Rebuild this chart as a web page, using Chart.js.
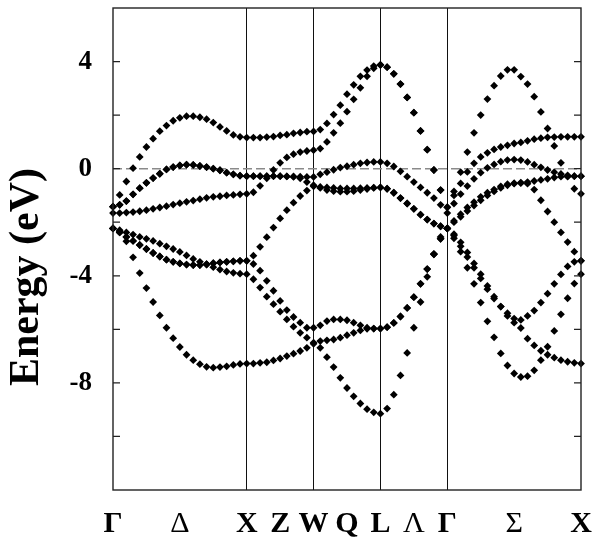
<!DOCTYPE html>
<html>
<head>
<meta charset="utf-8">
<script src="https://cdn.jsdelivr.net/npm/chart.js@4.4.0/dist/chart.umd.min.js"></script>
<style>
  html, body { margin: 0; padding: 0; background: #fff; }
  #wrap { width: 599px; height: 542px; }
</style>
</head>
<body>
<div id="wrap"><canvas id="bandas" width="599" height="542"></canvas></div>
<script>
// Puntos de alta simetria sobre el camino k (indice del punto k y etiqueta)
var simEtiquetas = ['Γ', 'Δ', 'X', 'Z', 'W', 'Q', 'L', 'Λ', 'Γ', 'Σ', 'X'];
var simIndices = [0, 10, 20, 25, 30, 35, 40, 45, 50, 60, 70];
// Etiquetas de direccion (letra fina) y lineas verticales en X, W, L, Γ
var simFinas = ['Δ', 'Λ', 'Σ'];
var simLineas = [20, 30, 40, 50];

// Marcas del eje de energia (eV)
var energiaTicks = [4, 0, -4, -8];
var nivelFermi = 0;

// Bandas (eV), 71 puntos k: Γ-X (0-20), X-W-L (20-40), L-Γ (40-50), Γ-X (50-70)
var banda1 = [-1.42, -0.98, -0.48, 0.02, 0.44, 0.81, 1.12, 1.40, 1.61, 1.79, 1.90, 1.96, 1.96, 1.92, 1.85, 1.72, 1.56, 1.41, 1.26, 1.19, 1.16,
  1.16, 1.16, 1.18, 1.20, 1.24, 1.27, 1.32, 1.35, 1.38, 1.39, 1.46, 1.69, 2.02, 2.37, 2.78, 3.13, 3.45, 3.68, 3.83, 3.88,
  3.79, 3.54, 3.16, 2.66, 2.09, 1.41, 0.71, -0.05, -0.80, -1.44,
  -0.85, -0.13, 0.62, 1.34, 2.00, 2.60, 3.10, 3.46, 3.69, 3.69, 3.44, 3.16, 2.69, 2.12, 1.50, 0.85, 0.22, -0.30, -0.75, -0.94];
var banda2 = [-1.66, -1.66, -1.64, -1.62, -1.59, -1.55, -1.50, -1.45, -1.40, -1.34, -1.29, -1.24, -1.19, -1.14, -1.09, -1.05, -1.03, -1.00, -0.98, -0.96, -0.94,
  -0.88, -0.64, -0.36, -0.05, 0.22, 0.42, 0.54, 0.62, 0.66, 0.69, 0.75, 1.00, 1.34, 1.70, 2.13, 2.59, 3.02, 3.45, 3.75, 3.87,
  3.79, 3.54, 3.16, 2.66, 2.09, 1.41, 0.71, -0.05, -0.80, -1.44,
  -1.00, -0.55, -0.12, 0.20, 0.44, 0.59, 0.72, 0.81, 0.87, 0.94, 0.98, 1.04, 1.10, 1.14, 1.17, 1.18, 1.19, 1.19, 1.19, 1.19];
var banda3 = [-1.42, -1.35, -1.21, -0.96, -0.73, -0.53, -0.35, -0.19, -0.03, 0.06, 0.12, 0.15, 0.14, 0.10, 0.06, 0.00, -0.06, -0.15, -0.21, -0.26, -0.28,
  -0.28, -0.28, -0.28, -0.28, -0.28, -0.29, -0.29, -0.30, -0.31, -0.31, -0.21, -0.13, -0.04, 0.04, 0.09, 0.15, 0.20, 0.23, 0.25, 0.25,
  0.20, 0.08, -0.10, -0.30, -0.50, -0.70, -0.90, -1.10, -1.35, -1.66,
  -1.30, -0.95, -0.65, -0.38, -0.15, 0.03, 0.16, 0.26, 0.32, 0.34, 0.32, 0.25, 0.15, 0.05, -0.05, -0.13, -0.20, -0.25, -0.28, -0.28];
var banda4 = [-1.42, -1.35, -1.21, -0.96, -0.73, -0.53, -0.35, -0.19, -0.03, 0.06, 0.12, 0.15, 0.14, 0.10, 0.06, 0.00, -0.06, -0.15, -0.21, -0.26, -0.28,
  -0.28, -0.28, -0.28, -0.28, -0.28, -0.29, -0.31, -0.36, -0.50, -0.62, -0.72, -0.80, -0.84, -0.86, -0.86, -0.84, -0.80, -0.76, -0.72, -0.70,
  -0.75, -0.90, -1.10, -1.30, -1.50, -1.72, -1.90, -2.05, -2.15, -2.23,
  -1.95, -1.70, -1.45, -1.25, -1.05, -0.90, -0.78, -0.66, -0.58, -0.54, -0.52, -0.50, -0.46, -0.42, -0.38, -0.33, -0.30, -0.28, -0.28, -0.28];
var banda5 = [-2.23, -2.38, -2.55, -2.70, -2.85, -3.00, -3.15, -3.28, -3.40, -3.48, -3.54, -3.58, -3.60, -3.60, -3.57, -3.53, -3.50, -3.48, -3.46, -3.44, -3.44,
  -3.25, -2.92, -2.56, -2.20, -1.86, -1.55, -1.27, -1.02, -0.82, -0.66, -0.68, -0.70, -0.72, -0.74, -0.74, -0.74, -0.73, -0.72, -0.71, -0.70,
  -0.75, -0.90, -1.10, -1.30, -1.50, -1.72, -1.90, -2.05, -2.15, -2.23,
  -2.00, -1.80, -1.58, -1.38, -1.18, -1.00, -0.85, -0.72, -0.62, -0.56, -0.54, -0.56, -0.78, -1.18, -1.60, -2.00, -2.38, -2.74, -3.10, -3.44];
var banda6 = [-2.23, -2.38, -2.55, -2.70, -2.85, -3.00, -3.15, -3.28, -3.40, -3.48, -3.54, -3.58, -3.60, -3.60, -3.57, -3.53, -3.50, -3.48, -3.46, -3.44, -3.44,
  -3.56, -3.81, -4.19, -4.56, -4.94, -5.28, -5.54, -5.75, -5.94, -5.94, -5.85, -5.69, -5.63, -5.63, -5.66, -5.75, -5.85, -5.94, -5.97, -5.97,
  -5.92, -5.76, -5.52, -5.20, -4.80, -4.30, -3.75, -3.20, -2.62, -2.23,
  -2.50, -2.90, -3.30, -3.70, -4.10, -4.50, -4.85, -5.15, -5.40, -5.60, -5.65, -5.50, -5.30, -5.00, -4.67, -4.30, -3.95, -3.65, -3.48, -3.44];
var banda7 = [-2.23, -2.30, -2.38, -2.46, -2.55, -2.62, -2.70, -2.80, -2.90, -3.00, -3.11, -3.24, -3.37, -3.48, -3.58, -3.68, -3.77, -3.84, -3.89, -3.92, -3.94,
  -4.13, -4.44, -4.78, -5.06, -5.34, -5.63, -5.90, -6.13, -6.31, -6.50, -6.69, -7.04, -7.41, -7.81, -8.19, -8.50, -8.77, -8.98, -9.10, -9.15,
  -8.96, -8.44, -7.72, -6.88, -5.94, -4.98, -4.04, -3.18, -2.55, -2.23,
  -2.60, -3.10, -3.70, -4.30, -5.00, -5.70, -6.30, -6.90, -7.35, -7.65, -7.78, -7.75, -7.53, -7.15, -6.65, -6.06, -5.44, -4.84, -4.29, -3.94];
var banda8 = [-2.23, -2.35, -2.71, -3.31, -3.90, -4.46, -4.98, -5.48, -5.94, -6.33, -6.66, -6.95, -7.15, -7.30, -7.40, -7.43, -7.41, -7.38, -7.33, -7.29, -7.28,
  -7.28, -7.25, -7.23, -7.16, -7.09, -7.00, -6.91, -6.81, -6.69, -6.54, -6.44, -6.41, -6.38, -6.31, -6.22, -6.13, -6.04, -5.98, -5.97, -5.97,
  -5.92, -5.76, -5.52, -5.20, -4.80, -4.30, -3.75, -3.20, -2.62, -2.23,
  -2.45, -2.75, -3.13, -3.54, -3.94, -4.38, -4.78, -5.15, -5.50, -5.75, -5.95, -6.35, -6.60, -6.80, -6.95, -7.06, -7.15, -7.21, -7.25, -7.28];

var bandas = [banda1, banda2, banda3, banda4, banda5, banda6, banda7, banda8];

// Etiquetas del eje k: vacias salvo en los puntos de simetria
var kEtiquetas = banda1.map(function() { return ''; });
simIndices.forEach(function(idx, n) { kEtiquetas[idx] = simEtiquetas[n]; });

var fuente = '"Liberation Serif", "Times New Roman", serif';

// Marco, marcas interiores del eje y, linea de Fermi y titulo del eje
var marcoPlugin = {
  id: 'marco',
  beforeDatasetsDraw: function(chart) {
    var ctx = chart.ctx, a = chart.chartArea, y = chart.scales.y.getPixelForValue(nivelFermi);
    ctx.save();
    ctx.strokeStyle = '#8a8a8a';
    ctx.lineWidth = 1.5;
    ctx.setLineDash([9, 4]);
    ctx.beginPath();
    ctx.moveTo(a.left, y);
    ctx.lineTo(a.right, y);
    ctx.stroke();
    ctx.restore();
  },
  afterDraw: function(chart) {
    var ctx = chart.ctx, a = chart.chartArea, ys = chart.scales.y;
    ctx.save();
    ctx.strokeStyle = '#222';
    ctx.lineWidth = 1.4;
    ctx.strokeRect(a.left, a.top, a.right - a.left, a.bottom - a.top);
    ctx.lineWidth = 1.2;
    ys.ticks.forEach(function(t) {
      if (t.value <= ys.min || t.value >= ys.max) return;
      var py = ys.getPixelForValue(t.value);
      ctx.beginPath();
      ctx.moveTo(a.left, py); ctx.lineTo(a.left + 7, py);
      ctx.moveTo(a.right, py); ctx.lineTo(a.right - 7, py);
      ctx.stroke();
    });
    // Titulo del eje y
    ctx.translate(27, 277);
    ctx.rotate(-Math.PI / 2);
    ctx.fillStyle = '#000';
    ctx.font = 'bold 42px ' + fuente;
    ctx.textAlign = 'center';
    ctx.textBaseline = 'middle';
    ctx.fillText('Energy (eV)', 0, 0);
    ctx.restore();
  }
};

new Chart(document.getElementById('bandas'), {
  type: 'line',
  data: {
    labels: kEtiquetas,
    datasets: bandas.map(function(b, i) {
      return {
        label: 'banda ' + (i + 1),
        data: b,
        showLine: false,
        pointStyle: 'rectRot',
        pointRadius: 3.9,
        pointBorderWidth: 0,
        pointBackgroundColor: '#000',
        borderColor: '#000',
        clip: false
      };
    })
  },
  options: {
    responsive: false,
    animation: false,
    layout: { padding: { top: 8, right: 18, left: 0, bottom: 0 } },
    plugins: { legend: { display: false }, tooltip: { enabled: false } },
    scales: {
      x: {
        type: 'category',
        offset: false,
        afterFit: function(s) { s.height = 52; s.paddingLeft = 0; s.paddingRight = 0; },
        grid: {
          drawTicks: false,
          color: function(c) { return simLineas.indexOf(c.index) >= 0 ? '#111' : 'rgba(0,0,0,0)'; },
          lineWidth: 1
        },
        border: { display: false },
        ticks: {
          autoSkip: false,
          maxRotation: 0,
          padding: 16,
          color: '#000',
          font: function(c) {
            var fina = simFinas.indexOf(kEtiquetas[c.index]) >= 0;
            return { family: fuente, size: 30, weight: fina ? 'normal' : 'bold' };
          }
        }
      },
      y: {
        min: -12,
        max: 6,
        afterFit: function(s) { s.width = 113; s.paddingTop = 0; s.paddingBottom = 0; },
        grid: { display: false },
        border: { display: false },
        ticks: {
          stepSize: 2,
          padding: 13,
          color: '#000',
          font: { family: fuente, size: 27, weight: 'bold' },
          callback: function(v) { return energiaTicks.indexOf(v) >= 0 ? String(v) : ''; }
        }
      }
    }
  },
  plugins: [marcoPlugin]
});
</script>
</body>
</html>
